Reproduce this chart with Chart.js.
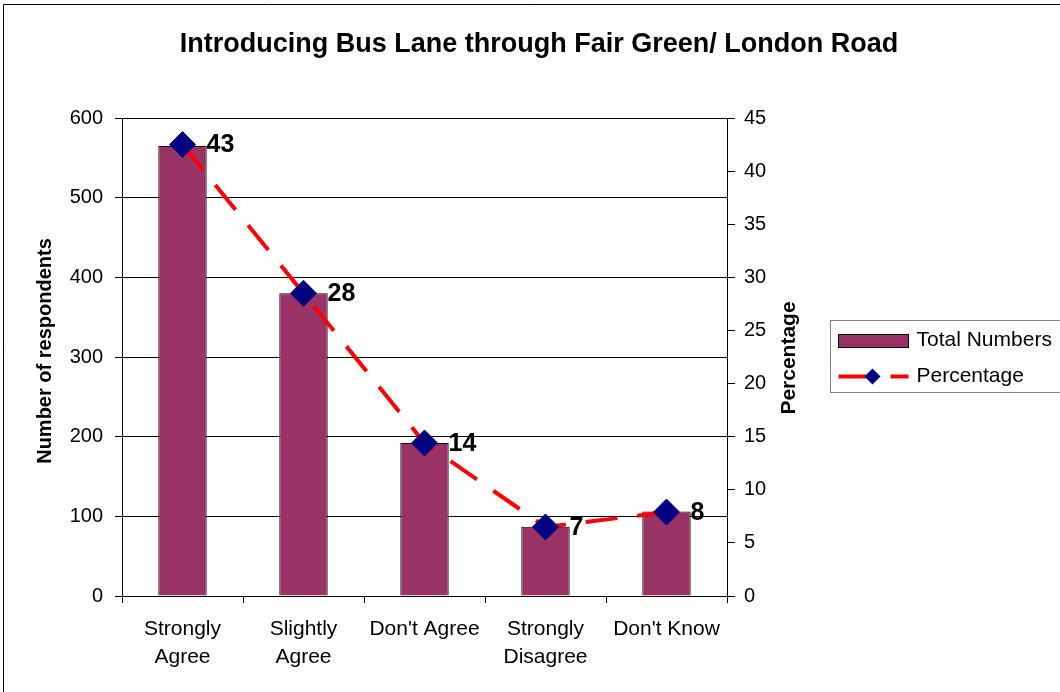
<!DOCTYPE html>
<html>
<head>
<meta charset="utf-8">
<title>Introducing Bus Lane through Fair Green/ London Road</title>
<script src="https://cdn.jsdelivr.net/npm/chart.js@4.4.1/dist/chart.umd.min.js"></script>
<style>
  html, body { margin: 0; padding: 0; background: #fff; }
  #wrap { position: relative; width: 1060px; height: 692px; }
</style>
</head>
<body>
<div id="wrap"><canvas id="chart"></canvas></div>
<script>
// Data
const categories = [['Strongly', 'Agree'], ['Slightly', 'Agree'], "Don't Agree", ['Strongly', 'Disagree'], "Don't Know"];
const totalNumbers = [565, 380, 192, 87, 106];
const percentage = [42.5, 28.5, 14.4, 6.5, 7.9];
const percentLabels = ['43', '28', '14', '7', '8'];
const countTicks = [0, 100, 200, 300, 400, 500, 600];
const percentTicks = [0, 5, 10, 15, 20, 25, 30, 35, 40, 45];

const FONT = '"Liberation Sans", Arial, sans-serif';
const BAR_COLOR = '#993366';
const LINE_COLOR = '#FF0000';
const MARKER_COLOR = '#000080';
const DASH = [32, 20];

// draws the frame, title, axis titles, point labels and the boxed legend
const decor = {
  id: 'decor',
  beforeDraw(chart) {
    const ctx = chart.ctx;
    ctx.save();
    ctx.fillStyle = '#fff';
    ctx.fillRect(0, 0, chart.width, chart.height);
    ctx.strokeStyle = '#000';
    ctx.lineWidth = 1;
    ctx.beginPath();
    ctx.moveTo(3.5, chart.height);
    ctx.lineTo(3.5, 4.5);
    ctx.lineTo(chart.width, 4.5);
    ctx.stroke();
    ctx.restore();
  },
  afterDatasetsDraw(chart) {
    const ctx = chart.ctx;
    const meta = chart.getDatasetMeta(1);
    ctx.save();
    ctx.fillStyle = '#000';
    ctx.font = 'bold 25px ' + FONT;
    ctx.textAlign = 'left';
    ctx.textBaseline = 'middle';
    meta.data.forEach((pt, i) => {
      ctx.fillText(percentLabels[i], pt.x + 24, pt.y + 1);
    });
    ctx.restore();
  },
  afterDraw(chart) {
    const ctx = chart.ctx;
    const area = chart.chartArea;
    ctx.save();
    ctx.fillStyle = '#000';

    // title
    ctx.font = 'bold 27px ' + FONT;
    ctx.textAlign = 'center';
    ctx.textBaseline = 'middle';
    ctx.fillText('Introducing Bus Lane through Fair Green/ London Road', 539, 45);

    // axis titles (both read bottom to top)
    ctx.font = 'bold 20px ' + FONT;
    ctx.save();
    ctx.translate(45, 351);
    ctx.rotate(-Math.PI / 2);
    ctx.fillText('Number of respondents', 0, 0);
    ctx.restore();

    ctx.font = 'bold 21px ' + FONT;
    ctx.save();
    ctx.translate(chart.scales.y1.left + 62, 358);
    ctx.rotate(-Math.PI / 2);
    ctx.fillText('Percentage', 0, 0);
    ctx.restore();

    // legend
    const lx = area.right + 103.5, ly = 320.5;
    ctx.fillStyle = '#fff';
    ctx.fillRect(lx, ly, chart.width - lx + 5, 72);
    ctx.strokeStyle = '#808080';
    ctx.lineWidth = 1;
    ctx.strokeRect(lx, ly, chart.width - lx + 5, 72);

    ctx.fillStyle = BAR_COLOR;
    ctx.strokeStyle = '#000';
    ctx.fillRect(lx + 8, ly + 14, 70, 13);
    ctx.strokeRect(lx + 8, ly + 14, 70, 13);

    ctx.strokeStyle = LINE_COLOR;
    ctx.lineWidth = 4;
    ctx.setLineDash(DASH);
    ctx.beginPath();
    ctx.moveTo(lx + 8, ly + 56);
    ctx.lineTo(lx + 78, ly + 56);
    ctx.stroke();
    ctx.setLineDash([]);
    const mx = lx + 42, my = ly + 56, r = 8;
    ctx.fillStyle = MARKER_COLOR;
    ctx.beginPath();
    ctx.moveTo(mx - r, my); ctx.lineTo(mx, my - r); ctx.lineTo(mx + r, my); ctx.lineTo(mx, my + r);
    ctx.closePath();
    ctx.fill();

    ctx.fillStyle = '#000';
    ctx.font = '21px ' + FONT;
    ctx.textAlign = 'left';
    ctx.textBaseline = 'middle';
    ctx.fillText('Total Numbers', lx + 86, ly + 20);
    ctx.fillText('Percentage', lx + 86, ly + 56);
    ctx.restore();
  }
};

const ctx = document.getElementById('chart').getContext('2d');
new Chart(ctx, {
  data: {
    labels: categories,
    datasets: [
      {
        type: 'bar',
        label: 'Total Numbers',
        data: totalNumbers,
        yAxisID: 'y',
        backgroundColor: BAR_COLOR,
        borderColor: '#000',
        borderWidth: 1,
        categoryPercentage: 1,
        barPercentage: 0.4,
        order: 1
      },
      {
        type: 'line',
        label: 'Percentage',
        data: percentage,
        yAxisID: 'y1',
        borderColor: LINE_COLOR,
        borderWidth: 4,
        borderDash: DASH,
        tension: 0,
        pointStyle: 'rectRot',
        pointRadius: 13,
        pointBackgroundColor: MARKER_COLOR,
        pointBorderColor: MARKER_COLOR,
        pointBorderWidth: 1,
        order: 0
      }
    ]
  },
  options: {
    responsive: true,
    maintainAspectRatio: false,
    animation: false,
    layout: { padding: { top: 118, left: 0, right: 273, bottom: 0 } },
    plugins: {
      legend: { display: false },
      title: { display: false },
      tooltip: { enabled: false }
    },
    scales: {
      x: {
        offset: true,
        grid: { offset: true, drawOnChartArea: false, color: '#000', tickLength: 7 },
        border: { color: '#000' },
        ticks: {
          color: '#000',
          font: { family: FONT, size: 21, lineHeight: 1.33 },
          padding: 12,
          maxRotation: 0,
          autoSkip: false
        },
        afterFit: s => { s.height = 96; }
      },
      y: {
        position: 'left',
        min: countTicks[0],
        max: countTicks[countTicks.length - 1],
        afterBuildTicks: s => { s.ticks = countTicks.map(v => ({ value: v })); },
        grid: { color: '#000', tickLength: 7 },
        border: { color: '#000' },
        ticks: { color: '#000', font: { family: FONT, size: 20 }, padding: 12 },
        afterFit: s => { s.width = 122; }
      },
      y1: {
        position: 'right',
        min: percentTicks[0],
        max: percentTicks[percentTicks.length - 1],
        afterBuildTicks: s => { s.ticks = percentTicks.map(v => ({ value: v })); },
        grid: { drawOnChartArea: false, color: '#000', tickLength: 8 },
        border: { color: '#000' },
        ticks: { color: '#000', font: { family: FONT, size: 20 }, padding: 9 },
        afterFit: s => { s.width = 60; }
      }
    }
  },
  plugins: [decor]
});
</script>
</body>
</html>
